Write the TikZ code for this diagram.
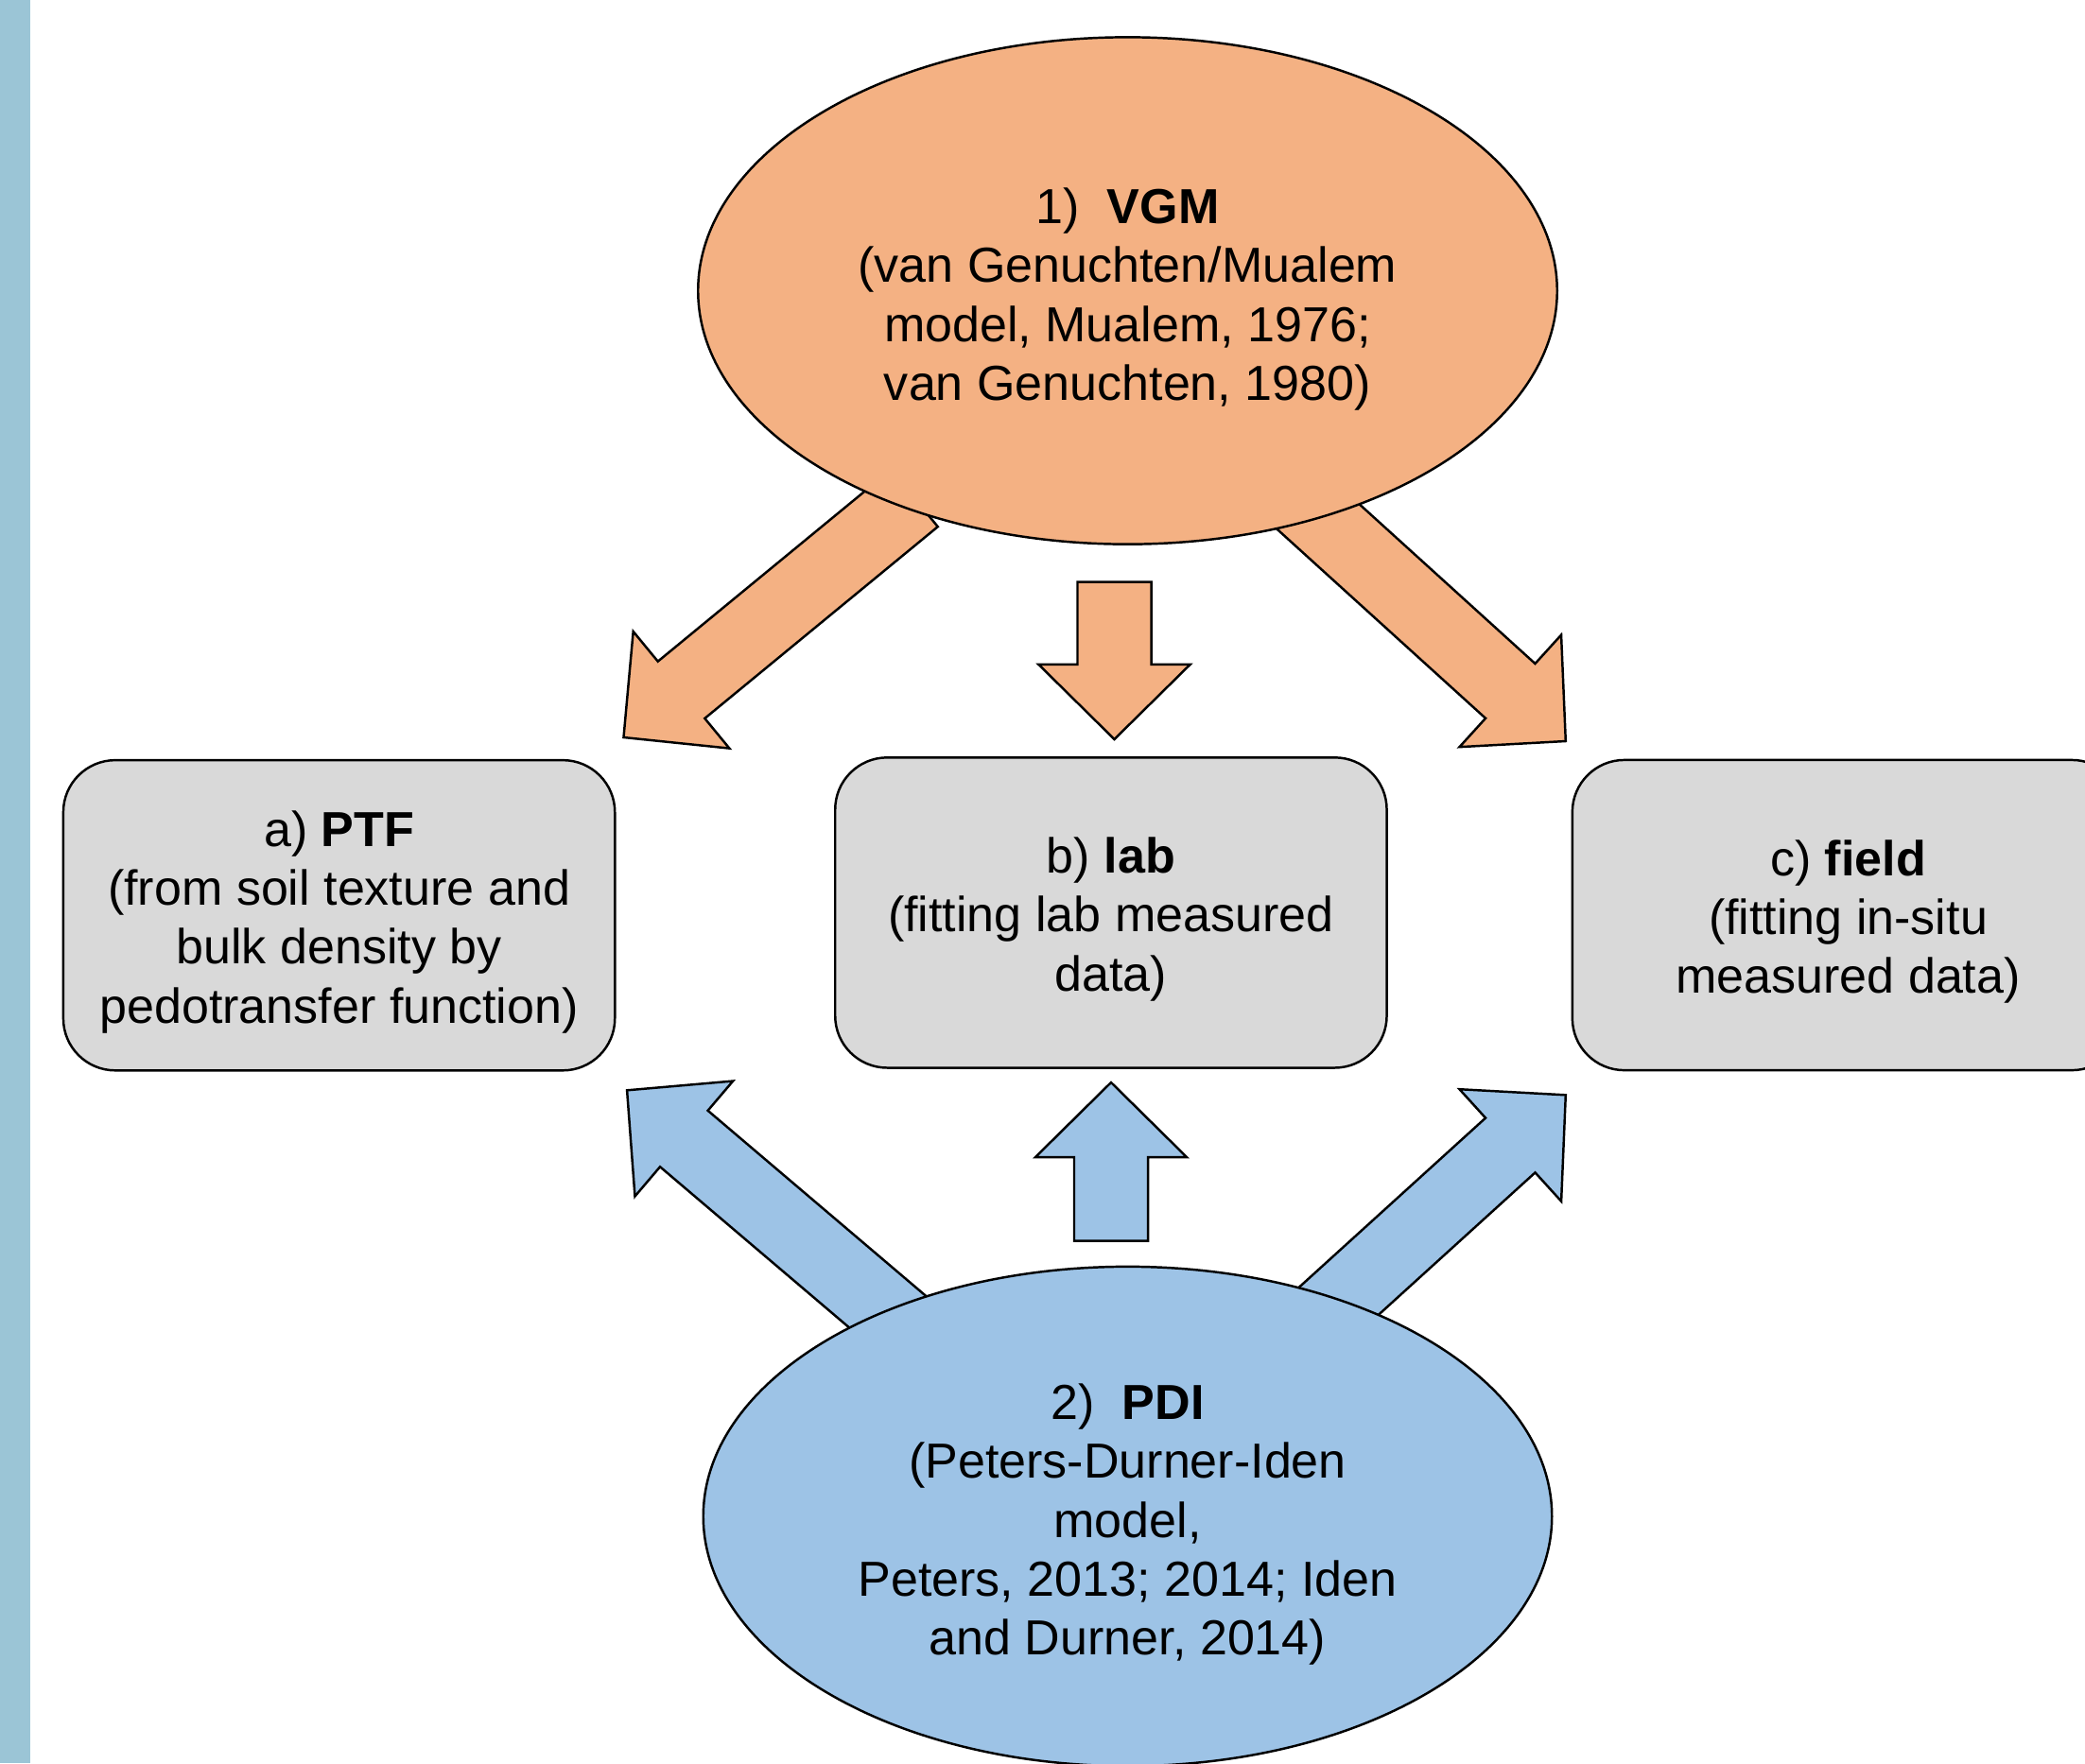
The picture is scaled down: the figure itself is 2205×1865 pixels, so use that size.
\documentclass[tikz,border=0pt]{standalone}
\usepackage{fontspec}
\setmainfont{Liberation Sans}
\usetikzlibrary{shapes.geometric,calc}

\definecolor{vgmorange}{HTML}{F4B183}
\definecolor{pdiblue}{HTML}{9DC3E6}
\definecolor{boxgray}{HTML}{D9D9D9}
\definecolor{stripblue}{HTML}{9BC5D6}

% block arrow: #1 fill colour, #2 tail, #3 tip
\newcommand{\bigarrow}[3]{%
  \coordinate (hb) at ($(#3)!0.79cm!(#2)$);
  \filldraw[fill=#1, line join=miter]
    ($(#2)!0.39cm!90:(#3)$) -- ($(hb)!0.39cm!90:(#3)$) -- ($(hb)!0.8cm!90:(#3)$) -- (#3)
    -- ($(hb)!0.8cm!-90:(#3)$) -- ($(hb)!0.39cm!-90:(#3)$) -- ($(#2)!0.39cm!-90:(#3)$) -- cycle;
}

\begin{document}
\begin{tikzpicture}[x=0.01cm, y=-0.01cm, line width=0.7pt,
    every node/.style={font=\fontsize{14.8}{17.7}\selectfont, align=center},
    model/.style={ellipse, draw, inner sep=0pt},
    method/.style={rectangle, rounded corners=0.55cm, draw, fill=boxgray,
                   minimum width=5.83cm, minimum height=3.28cm}]
    \useasboundingbox (0,0) rectangle (2205,1865);
    \clip (0,0) rectangle (2205,1865);

    % side strip
    \fill[stripblue] (0,0) rectangle (32,1865);

    % arrow ends
    \coordinate (vgm-a) at (967,527);
    \coordinate (vgm-b) at (1178.5,615.5);
    \coordinate (vgm-c) at (1361,516.5);
    \coordinate (ptf-top) at (659.5,780);
    \coordinate (lab-top) at (1178.5,782);
    \coordinate (field-top) at (1655.8,784);
    \coordinate (pdi-a) at (966.4,1411.2);
    \coordinate (pdi-b) at (1175,1312.5);
    \coordinate (pdi-c) at (1361.3,1425.8);
    \coordinate (ptf-bot) at (663.1,1153.3);
    \coordinate (lab-bot) at (1175,1145);
    \coordinate (field-bot) at (1655.8,1158.3);

    % arrows from the two models to the three methods
    \bigarrow{vgmorange}{vgm-a}{ptf-top}
    \bigarrow{vgmorange}{vgm-b}{lab-top}
    \bigarrow{vgmorange}{vgm-c}{field-top}
    \bigarrow{pdiblue}{pdi-a}{ptf-bot}
    \bigarrow{pdiblue}{pdi-b}{lab-bot}
    \bigarrow{pdiblue}{pdi-c}{field-bot}

    % models
    \node[model, fill=vgmorange, minimum width=9.08cm, minimum height=5.36cm] (vgm) at (1192.5,307.5) {};
    \node (vgm-txt) at ([yshift=-0.09cm]vgm.center)
        {1)\ \ \textbf{VGM}\\(van Genuchten/Mualem\\model, Mualem, 1976;\\van Genuchten, 1980)};
    \node[model, fill=pdiblue, minimum width=8.97cm, minimum height=5.28cm] (pdi) at (1192.5,1604) {};
    \node (pdi-txt) at ([yshift=-0.085cm]pdi.center)
        {2)\ \ \textbf{PDI}\\(Peters-Durner-Iden\\model,\\Peters, 2013; 2014; Iden\\and Durner, 2014)};

    % methods
    \node[method] (ptf) at (358.6,968.2) {};
    \node (ptf-txt) at ([yshift=-0.07cm]ptf.center)
        {a) \textbf{PTF}\\(from soil texture and\\bulk density by\\pedotransfer function)};
    \node[method] (lab) at (1174.9,965.4) {};
    \node (lab-txt) at ([yshift=-0.07cm]lab.center)
        {b) \textbf{lab}\\(fitting lab measured\\data)};
    \node[method] (field) at (1954.5,968) {};
    \node (field-txt) at ([yshift=-0.07cm]field.center)
        {c) \textbf{field}\\(fitting in-situ\\measured data)};
\end{tikzpicture}
\end{document}
